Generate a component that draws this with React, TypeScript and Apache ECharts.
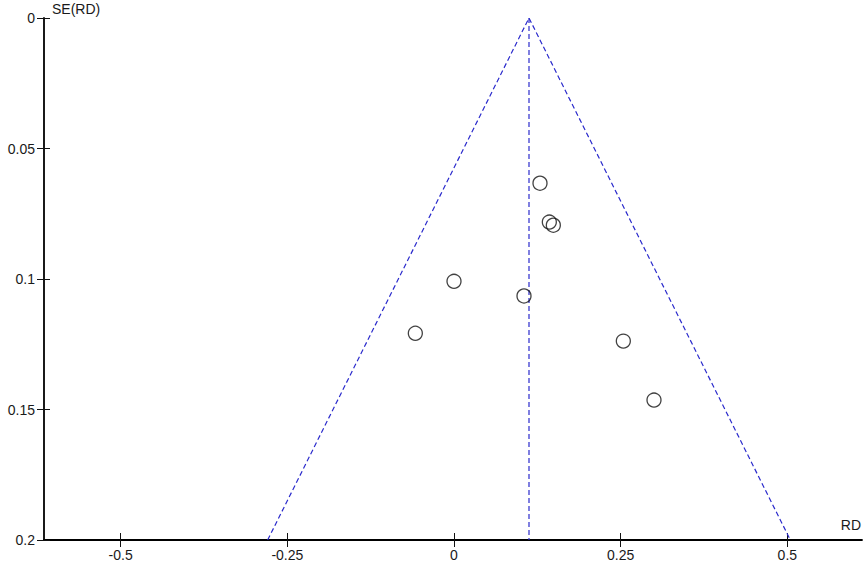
import React, { useEffect, useRef } from "react";
import * as echarts from "echarts";

const studyRD = [0.129, 0.143, 0.149, 0.0, 0.105, -0.058, 0.254, 0.3];
const studySE = [0.0633, 0.0782, 0.0794, 0.1009, 0.1065, 0.1208, 0.1238, 0.1464];
const pooledRD = 0.1125;
const seMax = 0.2;
const z = 1.96;
const xTicks = [-0.5, -0.25, 0, 0.25, 0.5];
const yInterval = 0.05;
const xRange = [-0.615, 0.612];
const xName = "RD";
const yName = "SE(RD)";

export default function App() {
  const ref = useRef<HTMLDivElement>(null);
  useEffect(() => {
    if (!ref.current) return;
    const chart = echarts.init(ref.current, null, { renderer: "svg" });
    const font = "'Liberation Sans', Arial, sans-serif";
    const [xMin, xMax] = xRange;
    const funnel = [
      [pooledRD - z * seMax, seMax],
      [pooledRD, 0],
      [pooledRD + z * seMax, seMax],
    ];
    const center = [
      [pooledRD, 0],
      [pooledRD, seMax],
    ];
    const dash = { color: "#2a2acc", width: 1.2, type: [5, 3] as any };
    const box = { left: 44, right: 5, top: 18, bottom: 25 };
    chart.setOption({
      animation: false,
      grid: [box, box],
      xAxis: [
        {
          type: "value",
          gridIndex: 0,
          min: xMin,
          max: xMax,
          axisLine: { show: true, onZero: false, lineStyle: { color: "#000", width: 1.8 } },
          axisTick: { show: true, length: 7, customValues: xTicks, lineStyle: { color: "#111" } },
          axisLabel: {
            color: "#1a1a1a",
            fontSize: 14,
            fontFamily: font,
            margin: 8,
            customValues: xTicks,
          },
          splitLine: { show: true, lineStyle: { opacity: 0 } },
        },
        {
          type: "value",
          gridIndex: 1,
          min: xMin,
          max: xMax,
          axisLine: { show: false, onZero: false },
          axisTick: { show: true, inside: true, length: 7, customValues: xTicks, lineStyle: { color: "#111" } },
          axisLabel: { show: false },
          splitLine: { show: false },
        },
      ],
      yAxis: [
        {
          type: "value",
          gridIndex: 0,
          inverse: true,
          min: 0,
          max: seMax,
          interval: yInterval,
          axisLine: { show: true, onZero: false, lineStyle: { color: "#000", width: 1.8 } },
          axisTick: { show: true, length: 7, lineStyle: { color: "#111" } },
          axisLabel: {
            color: "#1a1a1a",
            fontSize: 14,
            fontFamily: font,
            margin: 9,
          },
          splitLine: { show: true, lineStyle: { opacity: 0 } },
        },
        {
          type: "value",
          gridIndex: 1,
          inverse: true,
          min: 0,
          max: seMax,
          interval: yInterval,
          axisLine: { show: false, onZero: false },
          axisTick: { show: true, inside: true, length: 6, lineStyle: { color: "#111" } },
          axisLabel: { show: false },
          splitLine: { show: false },
        },
      ],
      graphic: [
        { type: "text", left: 52, top: 2, style: { text: yName, fill: "#1a1a1a", font: `14px ${font}` } },
        { type: "text", right: 6, top: 518, style: { text: xName, fill: "#1a1a1a", font: `14px ${font}` } },
      ],
      series: [
        { type: "line", xAxisIndex: 0, yAxisIndex: 0, data: funnel, symbol: "none", lineStyle: dash, z: 1 },
        { type: "line", xAxisIndex: 0, yAxisIndex: 0, data: center, symbol: "none", lineStyle: dash, z: 1 },
        {
          type: "scatter",
          xAxisIndex: 0,
          yAxisIndex: 0,
          data: studyRD.map((x, i) => [x, studySE[i]]),
          symbol: "circle",
          symbolSize: 14,
          itemStyle: { color: "rgba(0,0,0,0)", borderColor: "#111", borderWidth: 1.3 },
          z: 3,
        },
      ],
    });
    return () => chart.dispose();
  }, []);
  return <div ref={ref} style={{ width: 867, height: 565, position: "absolute", left: 0, top: 0, background: "#fff" }} />;
}
